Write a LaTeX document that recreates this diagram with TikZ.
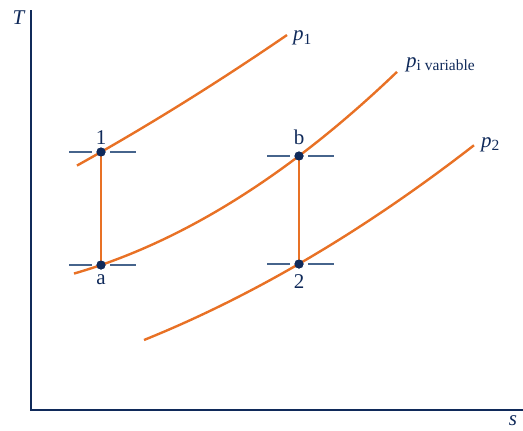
\documentclass[tikz,border=0pt]{standalone}
\usepackage{fontspec}
\setmainfont{Liberation Serif}
\definecolor{curveorange}{RGB}{232,113,37}
\definecolor{navy}{RGB}{16,42,90}
\definecolor{tickblue}{RGB}{70,100,140}
\tikzset{
  curve/.style={draw=curveorange, line width=2.4pt},
  axis/.style={draw=navy, line width=1.5pt},
  tickmark/.style={draw=tickblue, line width=1.6pt},
  dot/.style={circle, fill=navy, inner sep=0pt, minimum size=9pt},
  lbl/.style={text=navy, inner sep=0pt, font=\fontsize{21}{23}\selectfont},
}
\newcommand{\subtxt}[1]{\raisebox{-3.5pt}{\fontsize{15.5}{15.5}\selectfont #1}}
\begin{document}
\begin{tikzpicture}[x=1pt,y=-1pt]
\useasboundingbox (0,0) rectangle (523,431);
% axes
\coordinate (origin) at (31,410);
\coordinate (ytop) at (31,10);
\coordinate (xend) at (524,410);
\draw[axis] (ytop) -- (origin) -- (xend);
\node[lbl, anchor=base] (T) at (19,24) {\textit{T}};
\node[lbl, anchor=base] (s) at (513,425) {\textit{s}};
% curves
\draw[curve] plot[domain=77:287, samples=60] (\x, {152 - 0.5722*(\x-101) - 0.000306*(\x-101)*(\x-101)});
\draw[curve] plot[domain=74:397, samples=80] (\x, {265 - 0.3454*(\x-101) - 0.001036*(\x-101)*(\x-101)});
\draw[curve] plot[domain=144:474, samples=80] (\x, {340 - 0.4038*(\x-144) - 0.000558*(\x-144)*(\x-144)});
% state points
\node[dot] (n1) at (101,152) {};
\node[dot] (na) at (101,265) {};
\node[dot] (nb) at (299,156) {};
\node[dot] (n2) at (299,264) {};
\draw[curve] (n1.center) -- (na.center);
\draw[curve] (nb.center) -- (n2.center);
\node[dot] at (n1) {};
\node[dot] at (na) {};
\node[dot] at (nb) {};
\node[dot] at (n2) {};
% ticks
\foreach \n in {n1,na,nb,n2}{
  \draw[tickmark] ([xshift=-32pt]\n.center) -- ([xshift=-9pt]\n.center);
  \draw[tickmark] ([xshift=9pt]\n.center) -- ([xshift=35pt]\n.center);
}
% labels
\node[lbl, anchor=base] (l1) at (101,144) {1};
\node[lbl, anchor=base] (la) at (101,284) {a};
\node[lbl, anchor=base] (lb) at (299,144) {b};
\node[lbl, anchor=base] (l2) at (299,288) {2};
\node[lbl, anchor=base west] (lp1) at (293,41) {\textit{p}\subtxt{1}};
\node[lbl, anchor=base west] (lpi) at (406,67) {\textit{p}\subtxt{i variable}};
\node[lbl, anchor=base west] (lp2) at (481,147) {\textit{p}\subtxt{2}};
\end{tikzpicture}
\end{document}
